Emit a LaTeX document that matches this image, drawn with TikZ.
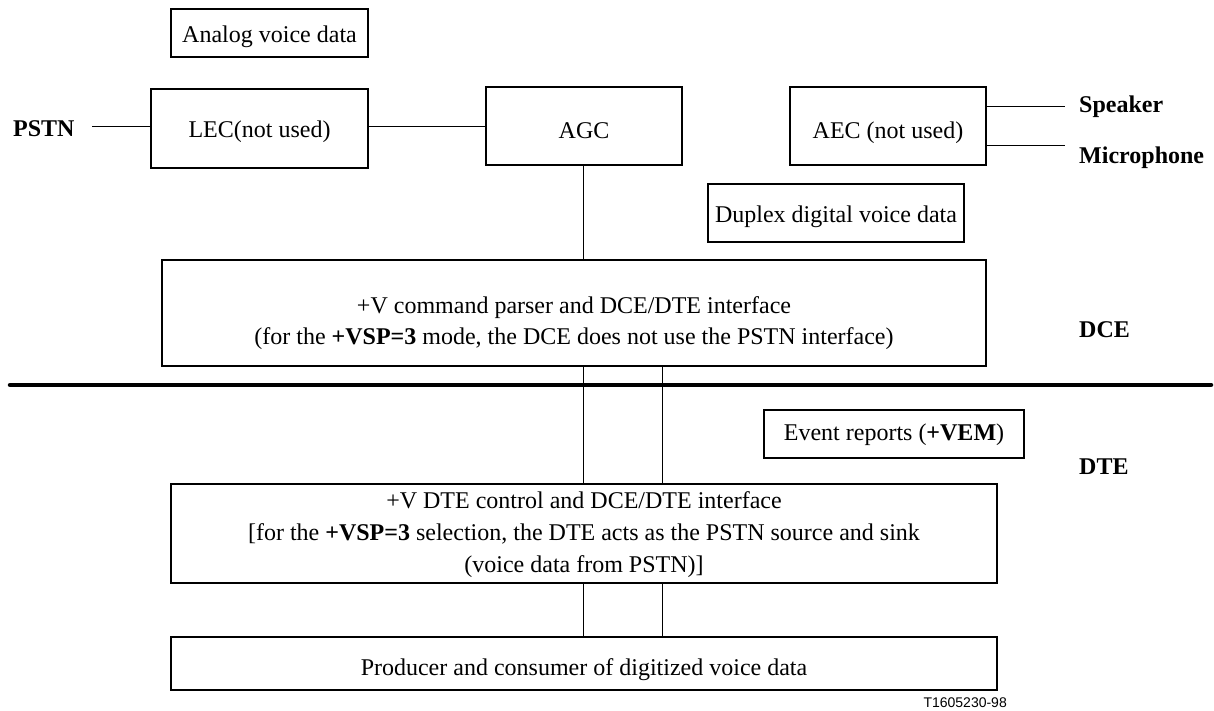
\documentclass[tikz,border=0pt]{standalone}
\usepackage{fontspec}
\setmainfont{Liberation Serif}
\newfontfamily\labelsans{Liberation Sans}
\usetikzlibrary{calc}
\begin{document}
\begin{tikzpicture}[x=1pt,y=-1pt,
  blk/.style={draw,line width=1.3pt,inner sep=0pt,outer sep=0pt},
  txt/.style={font=\fontsize{24}{30}\selectfont,inner sep=0pt,anchor=base},
  side/.style={font=\fontsize{24}{30}\selectfont\bfseries,inner sep=0pt,anchor=base west},
  conn/.style={line width=1pt}]
\useasboundingbox (0,0) rectangle (1214,711);

% boxes
\node[blk,minimum width=197,minimum height=48] (analog) at (269.5,33) {};
\node[blk,minimum width=217,minimum height=79] (lec) at (259.5,128.5) {};
\node[blk,minimum width=196,minimum height=78] (agc) at (584,126) {};
\node[blk,minimum width=196,minimum height=78] (aec) at (888,126) {};
\node[blk,minimum width=256,minimum height=58] (duplex) at (836,213) {};
\node[blk,minimum width=824,minimum height=106] (dcebox) at (574,313) {};
\node[blk,minimum width=260,minimum height=48] (event) at (894,434) {};
\node[blk,minimum width=826,minimum height=99] (dtebox) at (584,533.5) {};
\node[blk,minimum width=826,minimum height=53] (prod) at (584,663.5) {};

% box texts
\node[txt] (analogt) at (269.5,43) {Analog voice data};
\node[txt] (lect) at (259.5,138) {LEC(not used)};
\node[txt] (agct) at (584,139) {AGC};
\node[txt] (aect) at (888,139) {AEC (not used)};
\node[txt] (duplext) at (836,223) {Duplex digital voice data};
\node[txt] (dcet1) at (574,313) {+V command parser and DCE/DTE interface};
\node[txt] (dcet2) at (574,344) {(for the \textbf{+VSP=3} mode, the DCE does not use the PSTN interface)};
\node[txt] (eventt) at (894,440) {Event reports (\textbf{+VEM})};
\node[txt] (dtet1) at (584,508) {+V DTE control and DCE/DTE interface};
\node[txt] (dtet2) at (584,540) {[for the \textbf{+VSP=3} selection, the DTE acts as the PSTN source and sink};
\node[txt] (dtet3) at (584,572) {(voice data from PSTN)]};
\node[txt] (prodt) at (584,675) {Producer and consumer of digitized voice data};

% side labels
\node[side] (pstn) at (13,137) {PSTN};
\node[side] (speaker) at (1079,112.5) {Speaker};
\node[side] (micro) at (1079,164) {Microphone};
\node[side] (dce) at (1079,337) {DCE};
\node[side] (dte) at (1079,474) {DTE};
\node[font=\labelsans\fontsize{14}{16}\selectfont,inner sep=0pt,anchor=base east] (tag) at (1007,707) {T1605230-98};

% connectors
\coordinate (pstnend) at (92,127);
\coordinate (spkend) at (1065,107);
\coordinate (micend) at (1065,146);
\coordinate (linky) at (0,127);
\coordinate (va) at (583,0);
\coordinate (vb) at (662,0);
\draw[conn] (pstnend) -- (pstnend -| lec.west);
\draw[conn] (lec.east |- linky) -- (agc.west |- linky);
\draw[conn] (va |- agc.south) -- (va |- dcebox.north);
\draw[conn] (spkend -| aec.east) -- (spkend);
\draw[conn] (micend -| aec.east) -- (micend);
\draw[conn] (va |- dcebox.south) -- (va |- dtebox.north);
\draw[conn] (vb |- dcebox.south) -- (vb |- dtebox.north);
\draw[conn] (va |- dtebox.south) -- (va |- prod.north);
\draw[conn] (vb |- dtebox.south) -- (vb |- prod.north);

% DCE / DTE boundary
\coordinate (bl) at (10,385);
\coordinate (br) at (1211,385);
\draw[line width=4.5pt,line cap=round] (bl) -- (br);
\end{tikzpicture}
\end{document}
